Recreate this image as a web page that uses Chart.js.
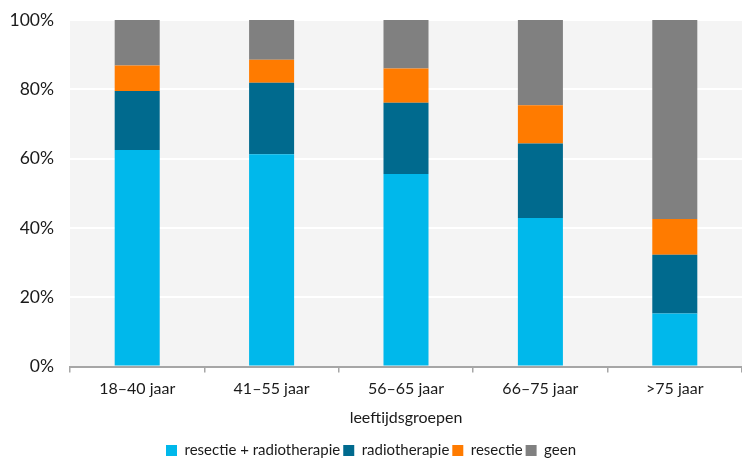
<!DOCTYPE html>
<html>
<head>
<meta charset="utf-8">
<script src="https://cdn.jsdelivr.net/npm/chart.js@4"></script>
<style>
  html, body { margin: 0; padding: 0; background: #fff; }
  #wrap { width: 742px; height: 459px; }
</style>
</head>
<body>
<div id="wrap"><canvas id="chart"></canvas></div>
<script>
// leeftijdsgroepen en aandelen per behandeling (%)
const categories = ['18–40 jaar', '41–55 jaar', '56–65 jaar', '66–75 jaar', '>75 jaar'];
const resectieRadio = [62.5, 61.3, 55.6, 42.9, 15.3];
const radiotherapie = [17.0, 20.6, 20.5, 21.5, 17.0];
const resectie = [7.4, 6.6, 9.9, 11.0, 10.3];
const geen = [13.1, 11.5, 14.0, 24.6, 57.4];
const yTicks = [0, 20, 40, 60, 80, 100];

const FONT = 'Lato, "Open Sans", sans-serif';

// grijze achtergrond achter het plotvlak
const plotBg = {
    id: 'plotBg',
    beforeDraw(chart) {
        const { ctx, chartArea: a } = chart;
        ctx.save();
        ctx.fillStyle = '#f4f4f4';
        ctx.fillRect(a.left, a.top, a.right - a.left, a.bottom - a.top);
        ctx.restore();
    }
};

const mk = (label, data, color) => ({
    label, data,
    backgroundColor: color,
    borderWidth: 0,
    barPercentage: 0.335,
    categoryPercentage: 1
});

new Chart(document.getElementById('chart'), {
    type: 'bar',
    data: {
        labels: categories,
        datasets: [
            mk('resectie + radiotherapie', resectieRadio, '#00b8eb'),
            mk('radiotherapie', radiotherapie, '#006a8e'),
            mk('resectie', resectie, '#ff7b00'),
            mk('geen', geen, '#808080')
        ]
    },
    options: {
        responsive: true,
        maintainAspectRatio: false,
        animation: false,
        // negatieve marge onderaan: legenda reserveert vast 10px
        layout: { padding: { left: 0, right: 0, top: 20, bottom: -9 } },
        plugins: {
            legend: {
                position: 'bottom',
                labels: {
                    boxWidth: 11, boxHeight: 11, padding: 3,
                    color: '#1a1a1a',
                    font: { family: FONT, size: 15 }
                }
            },
            tooltip: { enabled: false }
        },
        scales: {
            x: {
                stacked: true,
                offset: true,
                grid: { display: true, drawOnChartArea: false, drawTicks: true, tickLength: 6, color: '#a6a6a6', lineWidth: 1.5 },
                border: { display: true, color: '#a6a6a6', width: 2 },
                ticks: { color: '#1a1a1a', font: { family: FONT, size: 16 }, padding: 7 },
                title: { display: true, text: 'leeftijdsgroepen', color: '#1a1a1a', font: { family: FONT, size: 16 }, padding: { top: 2, bottom: 13 } }
            },
            y: {
                stacked: true,
                min: 0, max: 100,
                afterBuildTicks(scale) { scale.ticks = yTicks.map(v => ({ value: v })); },
                afterFit(scale) { scale.width = 70; },
                // onzichtbare tickstreepjes geven de afstand tot de labels
                grid: { color: '#ffffff', lineWidth: 2, drawTicks: true, tickLength: 14, tickColor: 'rgba(0,0,0,0)' },
                border: { display: false },
                ticks: { color: '#1a1a1a', font: { family: FONT, size: 17.5 }, padding: 2, callback: v => v + '%' }
            }
        }
    },
    plugins: [plotBg]
});
</script>
</body>
</html>
